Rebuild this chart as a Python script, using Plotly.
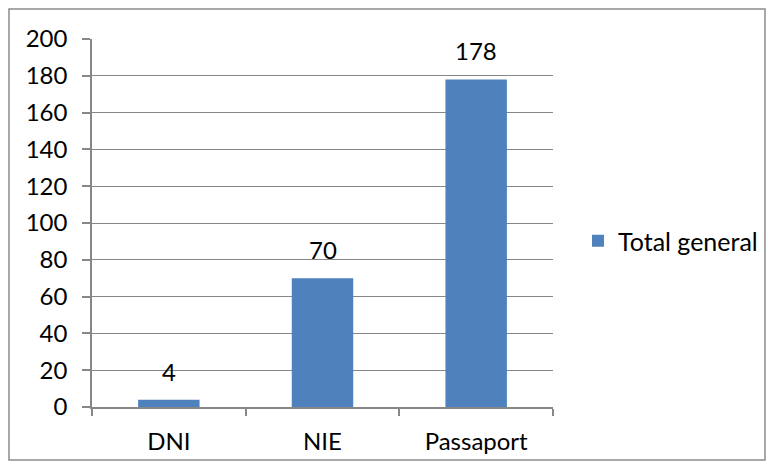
import plotly.graph_objects as go

categories = ["DNI", "NIE", "Passaport"]
values = [4, 70, 178]
series_name = "Total general"
y_ticks = [0, 20, 40, 60, 80, 100, 120, 140, 160, 180, 200]

FONT = "Lato"
FS = 24
GRID = "#878787"

W, H = 774, 469
L, T = 92, 39
pw, ph = 461, 368
R = W - L - pw
B = H - T - ph

def py(yref):  # reference pixel y -> paper y
    return (T + ph - yref) / ph

def px(xref):
    return (xref - L) / pw

fig = go.Figure()
fig.add_trace(go.Bar(
    x=categories, y=values, name=series_name,
    marker=dict(color="#4F81BD", line=dict(width=0)),
    width=0.4, showlegend=True,
))
for c, v in zip(categories, values):
    fig.add_annotation(x=c, y=v, text=str(v), showarrow=False, yanchor="bottom",
                       yshift=12, font=dict(family=FONT, size=FS, color="black"))

fig.update_layout(
    width=W, height=H,
    margin=dict(l=L, r=R, t=T, b=B, pad=0, autoexpand=False),
    paper_bgcolor="white", plot_bgcolor="white",
    font=dict(family=FONT, size=FS, color="black"),
    showlegend=True,
    legend=dict(xref="container", yref="container", x=578 / W, y=1 - 241 / H,
                xanchor="left", yanchor="middle",
                font=dict(family=FONT, size=25, color="black"),
                bgcolor="rgba(0,0,0,0)"),
    xaxis=dict(showline=True, linecolor=GRID, linewidth=1.5, ticks="outside",
               tickson="boundaries", ticklen=7, tickcolor=GRID, tickwidth=1.5,
               showgrid=False, tickfont=dict(family=FONT, size=FS),
               ticklabelstandoff=12),
    yaxis=dict(range=[0, 200], tickvals=y_ticks, showline=True, linecolor=GRID, linewidth=1.5,
               ticks="outside", ticklen=8, tickcolor=GRID, tickwidth=1.5,
               showgrid=True, gridcolor=GRID, gridwidth=1.2, zeroline=False,
               tickfont=dict(family=FONT, size=FS), ticklabelstandoff=10),
    shapes=[dict(type="rect", xref="paper", yref="paper",
                 x0=px(9), x1=px(765), y0=py(460), y1=py(9),
                 line=dict(color="#8c8c8c", width=1.5), fillcolor="rgba(0,0,0,0)", layer="below")],
)

fig.write_html("out.html", config={"displayModeBar": False},
               post_script="document.body.style.margin='0';document.body.style.overflow='hidden';")
